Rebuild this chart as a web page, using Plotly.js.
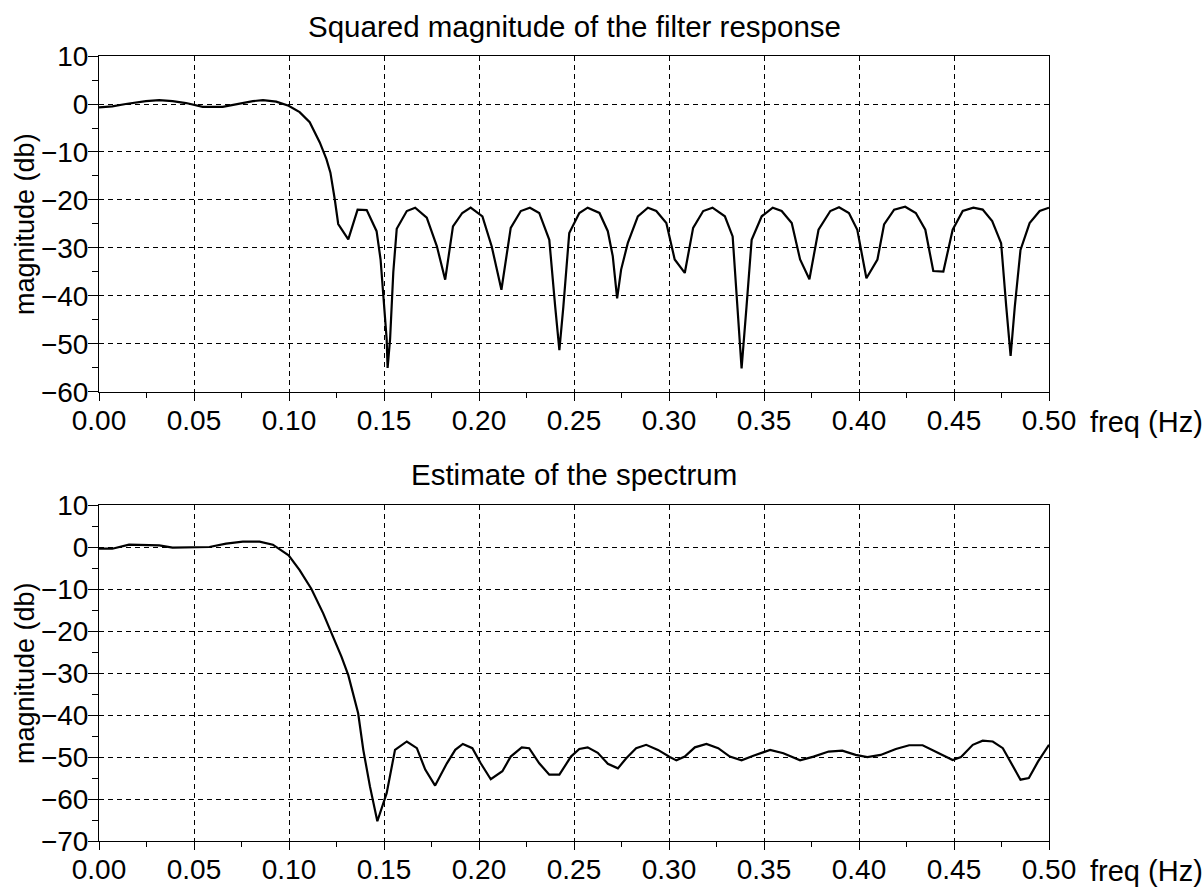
<!DOCTYPE html>
<html>
<head>
<meta charset="utf-8">
<script src="https://cdn.plot.ly/plotly-3.0.1.min.js"></script>
<style>
  html, body { margin: 0; padding: 0; background: #fff; }
  #chart { width: 1204px; height: 894px; }
</style>
</head>
<body>
<div id="chart"></div>
<script>
// Squared magnitude of the filter response (freq in Hz, magnitude in dB)
const freqFilter = [
  0, 0.0070, 0.0141, 0.0247, 0.0317, 0.0387, 0.0458, 0.0502, 0.0546, 0.0651,
  0.0739, 0.0810, 0.0863, 0.0933, 0.0998, 0.1056, 0.1109, 0.1162, 0.1197, 0.1218,
  0.1241, 0.1259, 0.1312, 0.1361, 0.1409, 0.1461, 0.1482, 0.1500, 0.1514, 0.1519,
  0.1532, 0.1549, 0.1567, 0.1620, 0.1664, 0.1725, 0.1778, 0.1822,
  0.1863, 0.1912, 0.1956, 0.2018, 0.2067, 0.2118, 0.2167, 0.2220, 0.2268, 0.2317,
  0.2370, 0.2401, 0.2423, 0.2444, 0.2475, 0.2528, 0.2572, 0.2634, 0.2678, 0.2704,
  0.2727, 0.2748, 0.2783, 0.2836, 0.2889, 0.2933, 0.2986, 0.3030, 0.3083, 0.3127,
  0.3180, 0.3229, 0.3294, 0.3335, 0.3361, 0.3382, 0.3408, 0.3435, 0.3488, 0.3546,
  0.3593, 0.3646, 0.3690, 0.3739, 0.3787, 0.3849, 0.3895, 0.3947, 0.3991, 0.4014,
  0.4039, 0.4097, 0.4132, 0.4185, 0.4243, 0.4299, 0.4349, 0.4391, 0.4444, 0.4493,
  0.4546, 0.4602, 0.4651, 0.4701, 0.4748, 0.4775, 0.4798, 0.4820, 0.4850, 0.4898,
  0.4951, 0.5000
];
const magFilter = [
  -0.7, -0.5, 0.0, 0.6, 0.8, 0.6, 0.2, -0.2, -0.6, -0.6,
  0.1, 0.6, 0.8, 0.5, -0.35, -1.7, -3.8, -8.0, -11.5, -14.3,
  -19.9, -25.0, -28.2, -22.0, -22.1, -26.5, -32.4, -42.0, -49.0, -55.0,
  -49.0, -35.0, -26.0, -22.3, -21.6, -23.7, -29.6, -36.6,
  -25.5, -22.7, -21.6, -23.4, -29.7, -38.7, -25.8, -22.3, -21.6, -22.7,
  -28.3, -42.2, -51.3, -42.2, -26.9, -22.7, -21.6, -22.7, -26.5, -31.7,
  -40.5, -34.5, -29.0, -23.4, -21.6, -22.3, -24.8, -32.4, -35.2, -25.8,
  -22.3, -21.6, -23.4, -27.6, -42.2, -55.1, -42.2, -28.3, -23.4, -21.6,
  -22.3, -24.8, -32.4, -36.5, -26.2, -22.3, -21.5, -22.7, -26.2, -31.0,
  -36.3, -32.4, -25.1, -22.0, -21.4, -22.7, -26.2, -34.8, -34.9, -26.2,
  -22.3, -21.6, -22.0, -24.4, -29.0, -42.2, -52.5, -42.2, -30.4, -24.8,
  -22.3, -21.6
];

// Estimate of the spectrum (freq in Hz, magnitude in dB)
const freqSpectrum = [
  0, 0.0070, 0.0158, 0.0246, 0.0317, 0.0387, 0.0493, 0.0581, 0.0669, 0.0757,
  0.0845, 0.0915, 0.0998, 0.1056, 0.1118, 0.1180, 0.1232, 0.1276, 0.1312, 0.1338,
  0.1364, 0.1391, 0.1426, 0.1465, 0.1514, 0.1558, 0.1620, 0.1673, 0.1717, 0.1769,
  0.1831, 0.1875, 0.1915, 0.1965, 0.2009, 0.2062, 0.2123, 0.2167, 0.2225, 0.2264,
  0.2317, 0.2370, 0.2423, 0.2484, 0.2528, 0.2572, 0.2625, 0.2678, 0.2731, 0.2775,
  0.2827, 0.2880, 0.2942, 0.3004, 0.3039, 0.3083, 0.3136, 0.3197, 0.3259, 0.3320,
  0.3382, 0.3444, 0.3532, 0.3602, 0.3690, 0.3761, 0.3840, 0.3912, 0.3982, 0.4044,
  0.4114, 0.4194, 0.4264, 0.4335, 0.4405, 0.4493, 0.4537, 0.4599, 0.4651, 0.4704,
  0.4757, 0.4810, 0.4850, 0.4894, 0.4942, 0.5000
];
const magSpectrum = [
  -0.4, -0.4, 0.55, 0.55, 0.4, -0.15, -0.15, 0.0, 0.8, 1.3,
  1.3, 0.55, -2.0, -5.5, -10.0, -15.8, -21.4, -26.1, -30.5, -34.8,
  -39.6, -48.3, -57.0, -65.3, -58.6, -48.3, -46.3, -47.9, -53.0, -56.8,
  -51.5, -48.3, -46.9, -47.9, -51.5, -55.3, -53.4, -49.9, -47.7, -47.9,
  -51.5, -54.2, -54.2, -49.9, -48.1, -47.7, -49.0, -51.6, -52.7, -50.3,
  -47.9, -47.1, -48.3, -50.0, -50.8, -49.9, -47.7, -46.9, -47.9, -49.9,
  -50.8, -49.7, -48.3, -49.1, -50.8, -49.9, -48.7, -48.5, -49.5, -50.0,
  -49.5, -48.1, -47.2, -47.2, -48.7, -50.7, -50.0, -47.1, -46.1, -46.3,
  -47.9, -52.3, -55.4, -55.0, -51.1, -47.1
];

const topTitle = 'Squared magnitude of the filter response';
const bottomTitle = 'Estimate of the spectrum';
const yLabel = 'magnitude (db)';
const xLabel = 'freq (Hz)';

const FONT = '"Liberation Sans", Arial, Helvetica, sans-serif';

const traces = [
  { x: freqFilter, y: magFilter, xaxis: 'x', yaxis: 'y', mode: 'lines',
    line: { color: '#000', width: 2.2 }, hoverinfo: 'x+y', showlegend: false },
  { x: freqSpectrum, y: magSpectrum, xaxis: 'x2', yaxis: 'y2', mode: 'lines',
    line: { color: '#000', width: 2.2 }, hoverinfo: 'x+y', showlegend: false }
];

function xAxis(anchor) {
  return {
    anchor: anchor, domain: [0, 1], range: [0, 0.5],
    tick0: 0, dtick: 0.05, tickformat: '.2f',
    ticks: 'outside', ticklen: 8, tickwidth: 1, tickcolor: '#000',
    ticklabelstandoff: -5,
    showline: true, mirror: true, linecolor: '#000', linewidth: 1,
    showgrid: true, gridcolor: '#000', gridwidth: 1, griddash: '5px,4px',
    zeroline: false,
    minor: { dtick: 0.025, ticks: 'outside', ticklen: 5, tickcolor: '#000', showgrid: false },
    tickfont: { family: FONT, size: 28, color: '#000' },
    fixedrange: true
  };
}
function yAxis(anchor, domain, range) {
  return {
    anchor: anchor, domain: domain, range: range,
    tick0: 0, dtick: 10,
    ticks: 'outside', ticklen: 10, tickwidth: 1, tickcolor: '#000',
    ticklabelstandoff: -6,
    showline: true, mirror: true, linecolor: '#000', linewidth: 1,
    showgrid: true, gridcolor: '#000', gridwidth: 1, griddash: '5px,4px',
    zeroline: false,
    minor: { dtick: 5, ticks: 'outside', ticklen: 6, tickcolor: '#000', showgrid: false },
    tickfont: { family: FONT, size: 28, color: '#000' },
    fixedrange: true
  };
}

const ann = (text, x, y, opts) => Object.assign({
  text: text, x: x, y: y, xref: 'paper', yref: 'paper', showarrow: false,
  font: { family: FONT, size: 27, color: '#000' }
}, opts || {});

const layout = {
  width: 1204, height: 894,
  margin: { l: 99, r: 155, t: 56, b: 53 },
  paper_bgcolor: '#fff', plot_bgcolor: '#fff',
  font: { family: FONT, color: '#000' },
  showlegend: false,
  xaxis: xAxis('y'),
  yaxis: yAxis('x', [0.572, 1], [-60, 10]),
  xaxis2: xAxis('y2'),
  yaxis2: yAxis('x2', [0, 0.428], [-70, 10]),
  annotations: [
    ann(topTitle, 0.5, 1.0382, { xanchor: 'center', yanchor: 'middle', font: { family: FONT, size: 29.5, color: '#000' } }),
    ann(bottomTitle, 0.5, 0.4675, { xanchor: 'center', yanchor: 'middle', font: { family: FONT, size: 29.5, color: '#000' } }),
    ann(yLabel, -0.0779, 0.786, { xanchor: 'center', yanchor: 'middle', textangle: -90 }),
    ann(yLabel, -0.0779, 0.214, { xanchor: 'center', yanchor: 'middle', textangle: -90 }),
    ann(xLabel, 1.041, 0.5338, { xanchor: 'left', yanchor: 'middle', font: { family: FONT, size: 29, color: '#000' } }),
    ann(xLabel, 1.041, -0.0382, { xanchor: 'left', yanchor: 'middle', font: { family: FONT, size: 29, color: '#000' } })
  ]
};

Plotly.newPlot('chart', traces, layout, { displayModeBar: false, staticPlot: true });
</script>
</body>
</html>
